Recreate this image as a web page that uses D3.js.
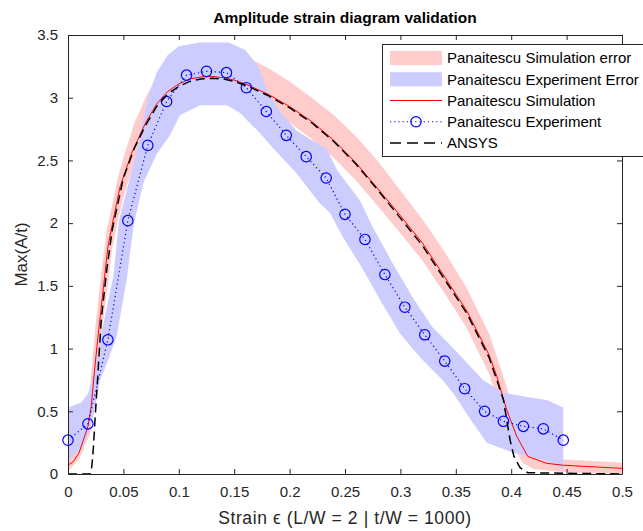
<!DOCTYPE html>
<html>
<head>
<meta charset="utf-8">
<script src="https://cdn.jsdelivr.net/npm/d3@7"></script>
<style>
  body { margin: 0; background: #fff; }
  text { font-family: "Liberation Sans", Arial, sans-serif; fill: #262626; }
</style>
</head>
<body>
<div id="viz"></div>
<script>
// --- data ---
// Panaitescu experiment (blue circles)
var expX = [0, 0.018, 0.036, 0.054, 0.072, 0.089, 0.107, 0.125, 0.143, 0.161, 0.179, 0.197, 0.215,
            0.233, 0.250, 0.268, 0.286, 0.304, 0.322, 0.340, 0.358, 0.376, 0.393, 0.411, 0.429, 0.447];
var expY = [0.27, 0.40, 1.07, 2.02, 2.62, 2.97, 3.18, 3.21, 3.20, 3.08, 2.89, 2.70, 2.53,
            2.36, 2.07, 1.87, 1.59, 1.33, 1.11, 0.90, 0.68, 0.50, 0.42, 0.38, 0.36, 0.27];

// experiment error band, upper edge and lower edge
var expErrUpX = [0, 0.012, 0.018, 0.023, 0.029, 0.035, 0.041, 0.046, 0.054, 0.062, 0.072, 0.080, 0.090,
                 0.100, 0.119, 0.145, 0.160, 0.172, 0.180, 0.192, 0.206, 0.220, 0.233, 0.243, 0.2635,
                 0.275, 0.293, 0.311, 0.329, 0.348, 0.3745, 0.3925, 0.417, 0.432, 0.447];
var expErrUpY = [0.53, 0.57, 0.64, 0.78, 1.07, 1.33, 1.58, 2.02, 2.30, 2.58, 3.00, 3.20, 3.34,
                 3.41, 3.44, 3.44, 3.38, 3.25, 3.05, 2.88, 2.74, 2.66, 2.60, 2.42, 2.18,
                 1.97, 1.68, 1.41, 1.17, 1.00, 0.75, 0.65, 0.61, 0.59, 0.53];
var expErrLoX = [0, 0.0136, 0.0213, 0.025, 0.029, 0.036, 0.044, 0.053, 0.0595, 0.068, 0.080, 0.092,
                 0.101, 0.119, 0.1435, 0.155, 0.173, 0.185, 0.206, 0.227, 0.2365, 0.248, 0.265,
                 0.2816, 0.2996, 0.3177, 0.338, 0.348, 0.362, 0.378, 0.4016, 0.417, 0.438, 0.447];
var expErrLoY = [0.11, 0.22, 0.40, 0.56, 0.75, 0.90, 1.10, 1.55, 2.00, 2.32, 2.55, 2.70,
                 2.86, 2.94, 2.94, 2.88, 2.72, 2.60, 2.40, 2.16, 2.08, 1.89, 1.65,
                 1.39, 1.12, 0.93, 0.75, 0.64, 0.45, 0.25, 0.17, 0.14, 0.09, 0.03];

// Panaitescu simulation (red line)
var simX = [0, 0.005, 0.01, 0.015, 0.018, 0.021, 0.024, 0.027, 0.032, 0.036, 0.040, 0.047, 0.0575,
            0.07, 0.08, 0.09, 0.10, 0.11, 0.12, 0.13, 0.14, 0.15, 0.16, 0.18, 0.20, 0.22, 0.24,
            0.26, 0.28, 0.30, 0.32, 0.34, 0.36, 0.38, 0.387, 0.396, 0.405, 0.415, 0.432, 0.447,
            0.468, 0.5];
var simY = [0.07, 0.10, 0.17, 0.30, 0.38, 0.54, 0.83, 1.09, 1.49, 1.81, 1.99, 2.29, 2.56,
            2.80, 2.95, 3.05, 3.11, 3.15, 3.165, 3.17, 3.16, 3.14, 3.11, 3.03, 2.93, 2.81, 2.66,
            2.48, 2.27, 2.06, 1.84, 1.57, 1.30, 0.95, 0.78, 0.51, 0.30, 0.14, 0.085, 0.07,
            0.06, 0.045];

// simulation error band
var simErrX  = [0, 0.01, 0.02, 0.025, 0.03, 0.035, 0.04, 0.045, 0.05, 0.06, 0.07, 0.08, 0.09, 0.10,
                0.12, 0.14, 0.16, 0.18, 0.20, 0.22, 0.24, 0.26, 0.28, 0.30, 0.32, 0.34, 0.36, 0.38,
                0.39, 0.40, 0.41, 0.42, 0.44, 0.46, 0.48, 0.50];
var simErrUp = [0.12, 0.24, 0.70, 1.20, 1.60, 1.95, 2.15, 2.36, 2.52, 2.80, 3.00, 3.17, 3.29, 3.35,
                3.38, 3.37, 3.33, 3.24, 3.13, 3.00, 2.86, 2.69, 2.49, 2.26, 2.03, 1.77, 1.48, 1.12,
                0.86, 0.58, 0.32, 0.16, 0.12, 0.11, 0.10, 0.09];
var simErrLo = [0.02, 0.12, 0.32, 0.70, 1.10, 1.45, 1.80, 2.02, 2.20, 2.50, 2.64, 2.80, 2.92, 2.99,
                3.05, 3.05, 3.00, 2.91, 2.80, 2.67, 2.52, 2.34, 2.13, 1.92, 1.70, 1.44, 1.16, 0.80,
                0.52, 0.26, 0.09, 0.04, 0.02, 0.01, 0.005, 0];

// ANSYS (black dashed)
var ansysX = [0, 0.02, 0.0215, 0.023, 0.0245, 0.027, 0.030, 0.035, 0.040, 0.050, 0.060, 0.070,
              0.080, 0.090, 0.10, 0.11, 0.12, 0.13, 0.14, 0.15, 0.16, 0.18, 0.20, 0.22, 0.24,
              0.26, 0.28, 0.30, 0.32, 0.34, 0.36, 0.38, 0.387, 0.393, 0.396, 0.399, 0.4025,
              0.408, 0.415, 0.5];
var ansysY = [0, 0, 0.06, 0.22, 0.45, 0.80, 1.23, 1.63, 1.95, 2.36, 2.60, 2.78,
              2.93, 3.03, 3.09, 3.13, 3.15, 3.155, 3.15, 3.13, 3.10, 3.02, 2.92, 2.80, 2.65,
              2.47, 2.26, 2.04, 1.82, 1.55, 1.28, 0.93, 0.75, 0.59, 0.43, 0.27, 0.14,
              0.05, 0.01, 0];

var xTicks = [0, 0.05, 0.1, 0.15, 0.2, 0.25, 0.3, 0.35, 0.4, 0.45, 0.5];
var yTicks = [0, 0.5, 1, 1.5, 2, 2.5, 3, 3.5];

var legendNames = ["Panaitescu Simulation error", "Panaitescu Experiment Error",
                   "Panaitescu Simulation", "Panaitescu Experiment", "ANSYS"];

// --- layout ---
var W = 643, H = 531;
var plotL = 68, plotR = 622, plotT = 35, plotB = 474;
var axisCol = "#262626";
var pink = "#ffcccc", lilac = "#ccccff";

var svg = d3.select("#viz").append("svg")
  .attr("width", W).attr("height", H);

var x = d3.scaleLinear().domain([0, 0.5]).range([plotL, plotR]);
var y = d3.scaleLinear().domain([0, 3.5]).range([plotB, plotT]);

function zip(xs, ys) { return xs.map(function(v, i) { return [v, ys[i]]; }); }

var line = d3.line().x(function(d) { return x(d[0]); }).y(function(d) { return y(d[1]); });

// simulation error band
var simBand = simErrX.map(function(v, i) { return {x: v, lo: simErrLo[i], hi: simErrUp[i]}; });
svg.append("path")
  .datum(simBand)
  .attr("fill", pink)
  .attr("d", d3.area().x(function(d) { return x(d.x); })
                      .y0(function(d) { return y(d.lo); })
                      .y1(function(d) { return y(d.hi); }));

// experiment error band: upper edge forward then lower edge back
var expPoly = zip(expErrUpX, expErrUpY).concat(zip(expErrLoX, expErrLoY).reverse());
svg.append("path")
  .attr("fill", lilac)
  .attr("d", line(expPoly) + "Z");

// simulation line
svg.append("path")
  .attr("fill", "none").attr("stroke", "#ff0000").attr("stroke-width", 1)
  .attr("d", line(zip(simX, simY)));

// experiment dotted line + circles
var expPts = zip(expX, expY);
svg.append("path")
  .attr("fill", "none").attr("stroke", "#0000ff").attr("stroke-width", 1.2)
  .attr("stroke-dasharray", "1.2,3")
  .attr("d", line(expPts));
svg.selectAll("circle.exp")
  .data(expPts)
  .enter().append("circle")
  .attr("class", "exp")
  .attr("cx", function(d) { return x(d[0]); })
  .attr("cy", function(d) { return y(d[1]); })
  .attr("r", 5.2)
  .attr("fill", "none").attr("stroke", "#0000ff").attr("stroke-width", 1.2);

// ANSYS
svg.append("path")
  .attr("fill", "none").attr("stroke", "#000").attr("stroke-width", 1.5)
  .attr("stroke-dasharray", "9,5")
  .attr("d", line(zip(ansysX, ansysY)));

// axes box with inward ticks on all four sides
var gx = svg.append("g").attr("transform", "translate(0," + plotB + ")")
  .call(d3.axisBottom(x).tickValues(xTicks).tickSizeInner(-5).tickSizeOuter(0)
        .tickPadding(12).tickFormat(d3.format("")));
var gxt = svg.append("g").attr("transform", "translate(0," + plotT + ")")
  .call(d3.axisTop(x).tickValues(xTicks).tickSizeInner(-5).tickSizeOuter(0).tickFormat(""));
var gy = svg.append("g").attr("transform", "translate(" + plotL + ",0)")
  .call(d3.axisLeft(y).tickValues(yTicks).tickSizeInner(-5).tickSizeOuter(0)
        .tickPadding(10).tickFormat(d3.format("")));
var gyr = svg.append("g").attr("transform", "translate(" + plotR + ",0)")
  .call(d3.axisRight(y).tickValues(yTicks).tickSizeInner(-5).tickSizeOuter(0).tickFormat(""));

[gx, gxt, gy, gyr].forEach(function(g) {
  g.select(".domain").attr("stroke", axisCol);
  g.selectAll(".tick line").attr("stroke", axisCol);
  g.selectAll(".tick text").attr("fill", axisCol)
    .style("font-family", "'Liberation Sans', Arial, sans-serif").style("font-size", "15px");
});

// title and axis labels
svg.append("text")
  .attr("x", (plotL + plotR) / 2).attr("y", 23)
  .attr("text-anchor", "middle")
  .style("font-size", "15.5px").style("font-weight", "bold").style("fill", "#000")
  .text("Amplitude strain diagram validation");

svg.append("text")
  .attr("x", (plotL + plotR) / 2).attr("y", 524)
  .attr("text-anchor", "middle")
  .style("font-size", "17.5px").style("letter-spacing", "0.6px")
  .text("Strain \u03f5 (L/W = 2 | t/W = 1000)");

svg.append("text")
  .attr("transform", "translate(27," + (plotT + plotB) / 2 + ") rotate(-90)")
  .attr("text-anchor", "middle")
  .style("font-size", "17px")
  .text("Max(A/t)");

// legend
var lg = svg.append("g");
lg.append("rect")
  .attr("x", 382.5).attr("y", 44.5).attr("width", 300).attr("height", 112)
  .attr("fill", "#fff").attr("stroke", axisCol).attr("stroke-width", 1);

var rowY = d3.scalePoint().domain(legendNames).range([58, 143]);
var sx0 = 390, sx1 = 442;

lg.append("rect").attr("x", sx0).attr("y", rowY(legendNames[0]) - 7)
  .attr("width", sx1 - sx0).attr("height", 14).attr("fill", pink);
lg.append("rect").attr("x", sx0).attr("y", rowY(legendNames[1]) - 7)
  .attr("width", sx1 - sx0).attr("height", 14).attr("fill", lilac);
lg.append("line").attr("x1", sx0).attr("x2", sx1)
  .attr("y1", rowY(legendNames[2])).attr("y2", rowY(legendNames[2]))
  .attr("stroke", "#ff0000").attr("stroke-width", 1);
lg.append("line").attr("x1", sx0).attr("x2", sx1)
  .attr("y1", rowY(legendNames[3])).attr("y2", rowY(legendNames[3]))
  .attr("stroke", "#0000ff").attr("stroke-width", 1.2).attr("stroke-dasharray", "1.2,3");
lg.append("circle").attr("cx", (sx0 + sx1) / 2).attr("cy", rowY(legendNames[3]))
  .attr("r", 5.2).attr("fill", "none").attr("stroke", "#0000ff").attr("stroke-width", 1.2);
lg.append("line").attr("x1", sx0).attr("x2", sx1)
  .attr("y1", rowY(legendNames[4])).attr("y2", rowY(legendNames[4]))
  .attr("stroke", "#000").attr("stroke-width", 1.5).attr("stroke-dasharray", "11,6");

lg.selectAll("text.lbl")
  .data(legendNames)
  .enter().append("text")
  .attr("class", "lbl")
  .attr("x", 447)
  .attr("y", function(d) { return rowY(d); })
  .attr("dy", "0.35em")
  .style("font-size", "15px")
  .style("fill", "#000")
  .text(function(d) { return d; });
</script>
</body>
</html>
